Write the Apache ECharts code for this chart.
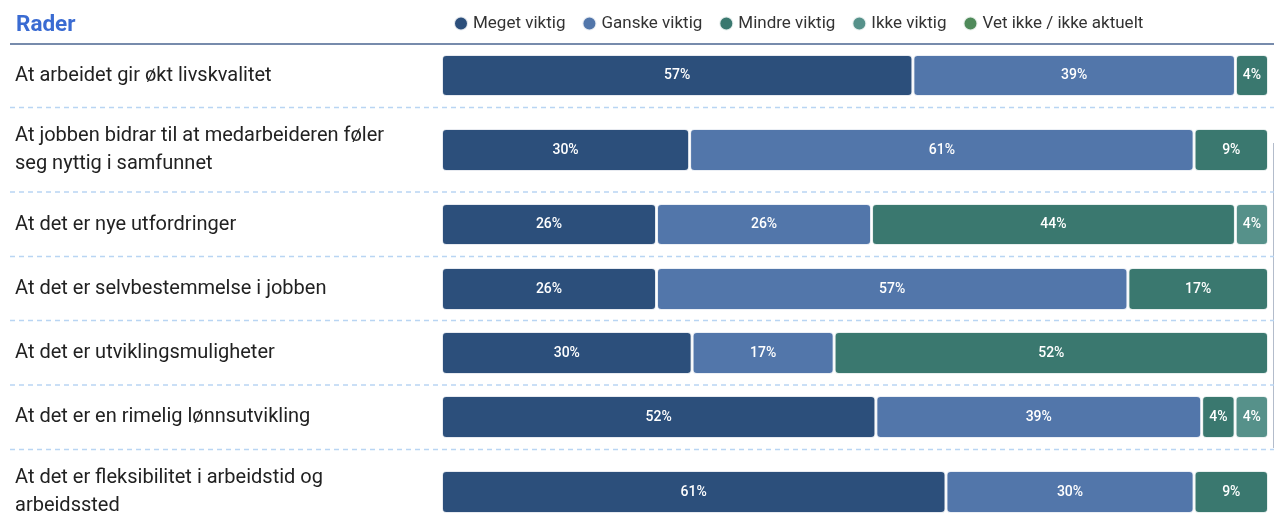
<!DOCTYPE html>
<html>
<head>
<meta charset="utf-8">
<title>Rader</title>
<script src="https://cdn.jsdelivr.net/npm/echarts@6/dist/echarts.min.js"></script>
<style>
  html, body { margin: 0; padding: 0; background: #fff; }
  #chart { width: 1274px; height: 516px; }
</style>
</head>
<body>
<div id="chart"></div>
<script>
// Row labels (one per bar)
const categories = [
  'At arbeidet gir økt livskvalitet',
  'At jobben bidrar til at medarbeideren føler seg nyttig i samfunnet',
  'At det er nye utfordringer',
  'At det er selvbestemmelse i jobben',
  'At det er utviklingsmuligheter',
  'At det er en rimelig lønnsutvikling',
  'At det er fleksibilitet i arbeidstid og arbeidssted'
];

// Answer groups, shown in the legend
const seriesNames = ['Meget viktig', 'Ganske viktig', 'Mindre viktig', 'Ikke viktig', 'Vet ikke / ikke aktuelt'];

// Share of answers per row, percent
const megetViktig  = [57, 30, 26, 26, 30, 52, 61];
const ganskeViktig = [39, 61, 26, 57, 17, 39, 30];
const mindreViktig = [4, 9, 44, 17, 52, 4, 9];
const ikkeViktig   = [null, null, 4, null, null, 4, null];
const vetIkke      = [null, null, null, null, null, null, null];

const seriesValues = [megetViktig, ganskeViktig, mindreViktig, ikkeViktig, vetIkke];
const colors = ['#2c4f7b', '#5276aa', '#3a786f', '#56918a', '#4f8a5a'];

// Vertical extent of each row's bar (rows differ in height because of wrapped labels)
const rowBars = [[56, 95], [130, 170], [205, 244], [269, 309], [333, 373], [397, 437], [472, 512]];
const separators = [107.5, 192, 256.5, 320.5, 385, 449.5];

const BORDER = 1.5;
const LEFT = 441.5;
const RIGHT = 5.5;
const LABEL_FONT = '20px Roboto';
const LABEL_WIDTH = 400;

// Word-wrap a row label to the label column width
const measureCtx = document.createElement('canvas').getContext('2d');
measureCtx.font = LABEL_FONT;
function wrapLabel(text) {
  const words = text.split(' ');
  const lines = [];
  let line = '';
  words.forEach(w => {
    const candidate = line ? line + ' ' + w : w;
    if (line && measureCtx.measureText(candidate).width > LABEL_WIDTH) {
      lines.push(line);
      line = w;
    } else {
      line = candidate;
    }
  });
  if (line) lines.push(line);
  return lines.join('\n');
}

const grids = [], xAxes = [], yAxes = [], series = [];

categories.forEach((cat, i) => {
  const [t, b] = rowBars[i];
  grids.push({
    left: LEFT, right: RIGHT, top: t - BORDER, height: (b - t) + 2 * BORDER,
    containLabel: false, outerBoundsMode: 'none'
  });
  xAxes.push({ type: 'value', gridIndex: i, min: 0, max: 'dataMax', show: false });
  yAxes.push({
    type: 'category', gridIndex: i, data: [cat],
    axisLine: { show: false }, axisTick: { show: false }, splitLine: { show: false },
    axisLabel: {
      show: true, align: 'left', margin: LEFT - 15,
      formatter: wrapLabel,
      fontFamily: 'Roboto', fontSize: 20, color: '#222', lineHeight: 28
    }
  });
  seriesNames.forEach((name, k) => {
    series.push({
      name: name,
      type: 'bar',
      stack: 'row' + i,
      xAxisIndex: i, yAxisIndex: i,
      barWidth: '100%',
      data: [seriesValues[k][i]],
      itemStyle: { color: colors[k], borderColor: 'rgba(255,255,255,0.85)', borderWidth: BORDER, borderRadius: 4 },
      label: {
        show: true, position: 'inside',
        formatter: p => (p.value == null ? '' : p.value + '%'),
        color: '#fff', fontFamily: 'Roboto', fontSize: 14, fontWeight: 500
      },
      emphasis: { disabled: true },
      silent: true
    });
  });
});

const graphics = [
  { type: 'line', shape: { x1: 10, y1: 44, x2: 1274, y2: 44 }, style: { stroke: '#4a6591', lineWidth: 1.5 } },
  { type: 'line', shape: { x1: 1273.5, y1: 143, x2: 1273.5, y2: 448 }, style: { stroke: '#b3bccb', lineWidth: 1 } }
];
separators.forEach(y => {
  graphics.push({
    type: 'line', shape: { x1: 10, y1: y, x2: 1274, y2: y },
    style: { stroke: '#b9d5f3', lineWidth: 1.5, lineDash: [5, 4] }
  });
});

const chart = echarts.init(document.getElementById('chart'), null, { renderer: 'canvas' });
chart.setOption({
  animation: false,
  title: {
    text: 'Rader', left: 11, top: 9,
    textStyle: { fontFamily: 'Roboto', fontSize: 22.5, fontWeight: 'bold', color: '#3a6bd2' }
  },
  legend: {
    data: seriesNames,
    left: 448, top: 10,
    icon: 'circle', itemWidth: 14, itemHeight: 14, itemGap: 16,
    textStyle: { fontFamily: 'Roboto', fontSize: 17, color: '#333' },
    selectedMode: false
  },
  color: colors,
  grid: grids,
  xAxis: xAxes,
  yAxis: yAxes,
  series: series,
  graphic: graphics
});
</script>
</body>
</html>
